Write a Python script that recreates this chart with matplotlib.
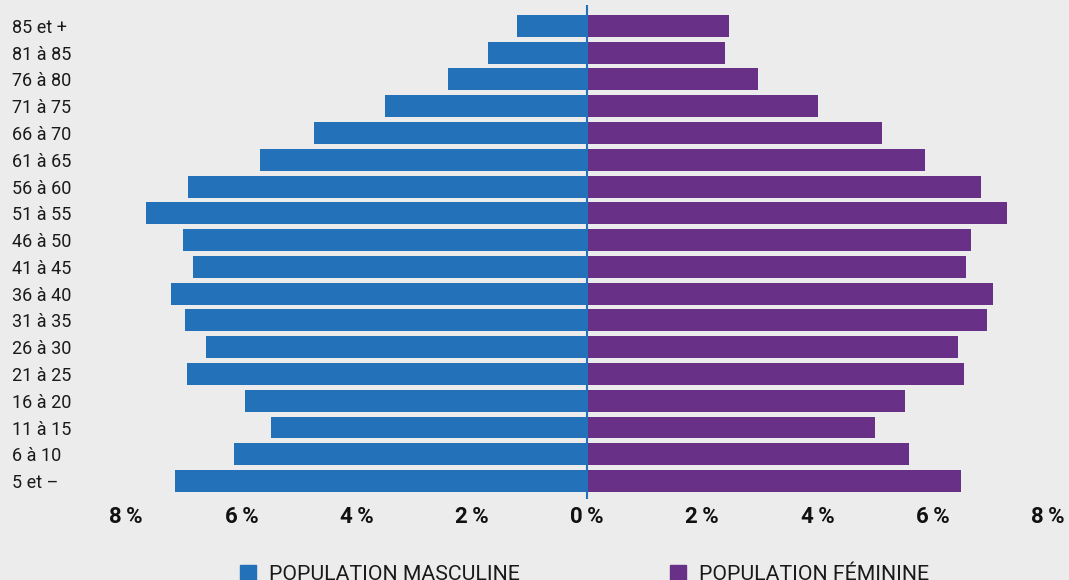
import matplotlib
matplotlib.use("Agg")
import matplotlib.pyplot as plt
from matplotlib.patches import Patch
from matplotlib.transforms import ScaledTranslation
import numpy as np

# Pyramide des âges, en % de chaque population
tranches = ['5 et –', '6 à 10', '11 à 15', '16 à 20', '21 à 25', '26 à 30', '31 à 35',
            '36 à 40', '41 à 45', '46 à 50', '51 à 55', '56 à 60', '61 à 65', '66 à 70',
            '71 à 75', '76 à 80', '81 à 85', '85 et +']
hommes = [7.15, 6.13, 5.49, 5.94, 6.94, 6.61, 6.98, 7.22, 6.84, 7.01, 7.66, 6.93,
          5.68, 4.74, 3.51, 2.41, 1.72, 1.22]
femmes = [6.49, 5.59, 5.00, 5.52, 6.55, 6.44, 6.94, 7.05, 6.58, 6.67, 7.29, 6.84,
          5.87, 5.12, 4.01, 2.97, 2.40, 2.47]
graduations = [-8, -6, -4, -2, 0, 2, 4, 6, 8]
etiquettes_x = ['8\u2009%', '6\u2009%', '4\u2009%', '2\u2009%', '0\u2009%',
                '2\u2009%', '4\u2009%', '6\u2009%', '8\u2009%']

bleu = '#2271b9'
violet = '#683187'
fond = '#ececec'

plt.rcParams['font.family'] = ['Roboto', 'DejaVu Sans']

fig = plt.figure(figsize=(10.69, 5.80), dpi=100, facecolor=fond)
ax = fig.add_axes([110 / 1069, 1 - 499 / 580, 1 - 110 / 1069, (499 - 5) / 580])
ax.set_facecolor(fond)

y = np.arange(len(tranches))
ax.barh(y, -np.array(hommes), height=0.82, color=bleu, zorder=2)
ax.barh(y, femmes, height=0.82, color=violet, zorder=2)
ax.axvline(0, color=bleu, lw=1.5, zorder=3)

px = 57.6  # pixels par point de %
ax.set_xlim((110 - 587) / px, (1069 - 587) / px)
ax.set_ylim(-0.67, 17.78)

ax.set_xticks(graduations)
ax.set_xticklabels(etiquettes_x, fontsize=16, fontweight='bold', color='#111111')
# étiquettes légèrement décalées vers la droite, un peu plus pour le 0
for g, lab in zip(graduations, ax.get_xticklabels()):
    dx = 9.5 if g == 0 else 4.5
    lab.set_transform(lab.get_transform() + ScaledTranslation(dx / 100, 0, fig.dpi_scale_trans))
ax.set_yticks(y)
ax.set_yticklabels(tranches, fontsize=13, color='#1a1a1a')
for lab in ax.get_yticklabels():
    lab.set_ha('left')
ax.tick_params(axis='y', length=0, pad=70.5)
ax.tick_params(axis='x', length=0, pad=5)
for s in ax.spines.values():
    s.set_visible(False)

poignees = [Patch(color=bleu, label='POPULATION MASCULINE'),
            Patch(color=violet, label='POPULATION FÉMININE')]
fig.legend(handles=poignees, loc='upper left', bbox_to_anchor=(240 / 1069, 1 - 565 / 580),
           ncol=2, frameon=False, fontsize=15.3, handlelength=0.75, handleheight=0.75,
           handletextpad=0.6, columnspacing=7.1, borderaxespad=0, borderpad=0,
           labelcolor='#1a1a1a')

fig.savefig('out.png', dpi=100, facecolor=fond)
